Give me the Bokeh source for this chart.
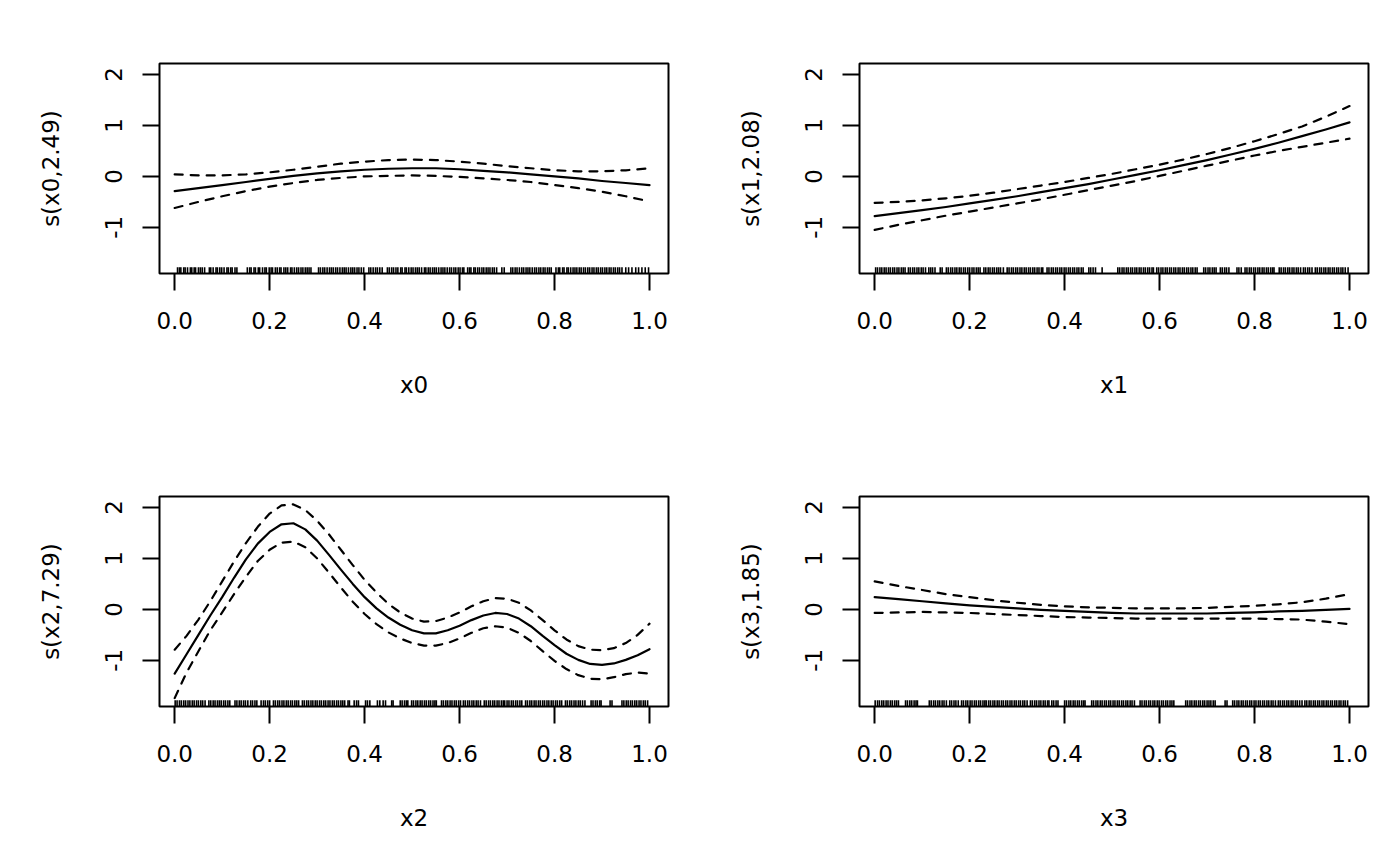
from bokeh.plotting import figure
from bokeh.layouts import gridplot
from bokeh.models import Range1d, FixedTicker, PrintfTickFormatter
from bokeh.embed import file_html
from bokeh.resources import INLINE

# ---------------- data ----------------
grid21 = [0.0, 0.05, 0.1, 0.15, 0.2, 0.25, 0.3, 0.35, 0.4, 0.45, 0.5,
          0.55, 0.6, 0.65, 0.7, 0.75, 0.8, 0.85, 0.9, 0.95, 1.0]
grid41 = [0.0, 0.025, 0.05, 0.075, 0.1, 0.125, 0.15, 0.175, 0.2, 0.225,
          0.25, 0.275, 0.3, 0.325, 0.35, 0.375, 0.4, 0.425, 0.45, 0.475,
          0.5, 0.525, 0.55, 0.575, 0.6, 0.625, 0.65, 0.675, 0.7, 0.725,
          0.75, 0.775, 0.8, 0.825, 0.85, 0.875, 0.9, 0.925, 0.95, 0.975, 1.0]

fit_x0 = [-0.29, -0.23, -0.17, -0.11, -0.05, 0.01, 0.06, 0.10, 0.13, 0.15, 0.16,
          0.16, 0.14, 0.11, 0.08, 0.04, 0.00, -0.04, -0.09, -0.13, -0.17]
up_x0 = [0.04, 0.02, 0.02, 0.04, 0.08, 0.13, 0.19, 0.25, 0.29, 0.32, 0.33,
         0.32, 0.29, 0.25, 0.20, 0.16, 0.12, 0.10, 0.10, 0.12, 0.16]
lo_x0 = [-0.62, -0.50, -0.39, -0.29, -0.20, -0.13, -0.07, -0.03, 0.00, 0.01, 0.02,
         0.01, -0.01, -0.04, -0.07, -0.11, -0.17, -0.23, -0.30, -0.39, -0.49]

fit_x1 = [-0.78, -0.72, -0.66, -0.60, -0.53, -0.46, -0.39, -0.31, -0.23, -0.15, -0.06,
          0.03, 0.12, 0.22, 0.32, 0.43, 0.54, 0.66, 0.79, 0.92, 1.06]
up_x1 = [-0.52, -0.50, -0.47, -0.43, -0.38, -0.32, -0.25, -0.18, -0.11, -0.03, 0.05,
         0.14, 0.23, 0.33, 0.44, 0.56, 0.69, 0.83, 0.98, 1.17, 1.38]
lo_x1 = [-1.05, -0.95, -0.86, -0.77, -0.69, -0.61, -0.53, -0.45, -0.36, -0.27, -0.18,
         -0.09, 0.01, 0.11, 0.21, 0.31, 0.41, 0.50, 0.58, 0.66, 0.74]

fit_x2 = [-1.26, -0.88, -0.50, -0.12, 0.24, 0.62, 0.98, 1.29, 1.52, 1.67,
          1.69, 1.57, 1.35, 1.07, 0.78, 0.50, 0.24, 0.02, -0.16, -0.30,
          -0.41, -0.47, -0.47, -0.41, -0.32, -0.21, -0.12, -0.07, -0.09, -0.18,
          -0.33, -0.52, -0.70, -0.87, -0.99, -1.07, -1.09, -1.06, -0.99, -0.90, -0.78]
up_x2 = [-0.79, -0.52, -0.20, 0.16, 0.55, 0.94, 1.30, 1.62, 1.88, 2.04,
         2.06, 1.95, 1.74, 1.47, 1.17, 0.87, 0.58, 0.33, 0.11, -0.06,
         -0.18, -0.24, -0.23, -0.16, -0.06, 0.06, 0.16, 0.22, 0.21, 0.13,
         -0.02, -0.21, -0.41, -0.59, -0.72, -0.79, -0.80, -0.76, -0.66, -0.50, -0.28]
lo_x2 = [-1.74, -1.24, -0.82, -0.41, -0.06, 0.30, 0.64, 0.95, 1.17, 1.31,
         1.33, 1.22, 1.00, 0.72, 0.43, 0.15, -0.09, -0.29, -0.45, -0.57,
         -0.66, -0.71, -0.71, -0.66, -0.57, -0.46, -0.37, -0.33, -0.36, -0.46,
         -0.62, -0.82, -1.01, -1.17, -1.29, -1.36, -1.37, -1.33, -1.27, -1.24, -1.26]

fit_x3 = [0.24, 0.20, 0.16, 0.12, 0.08, 0.05, 0.02, -0.01, -0.03, -0.05, -0.07,
          -0.08, -0.08, -0.08, -0.08, -0.07, -0.06, -0.04, -0.03, -0.01, 0.01]
up_x3 = [0.55, 0.46, 0.38, 0.30, 0.24, 0.18, 0.13, 0.09, 0.06, 0.04, 0.03,
         0.02, 0.02, 0.02, 0.03, 0.05, 0.07, 0.10, 0.14, 0.21, 0.30]
lo_x3 = [-0.07, -0.06, -0.05, -0.06, -0.07, -0.09, -0.11, -0.13, -0.15, -0.16, -0.17,
         -0.18, -0.18, -0.18, -0.18, -0.18, -0.18, -0.19, -0.20, -0.24, -0.29]

# rug positions (thousandths of the covariate range)
rug_x0 = [6, 10, 13, 19, 22, 27, 33, 36, 41, 44, 50, 54, 58, 63, 73, 76, 81, 87, 90, 95, 99,
          104, 110, 113, 118, 121, 127, 131, 153, 158, 161, 167, 170, 176, 179, 185, 190, 193,
          199, 203, 206, 212, 216, 221, 224, 230, 234, 238, 244, 247, 252, 257, 261, 266, 270,
          275, 279, 283, 287, 303, 307, 312, 316, 321, 326, 330, 334, 339, 343, 348, 353, 357,
          361, 366, 371, 375, 379, 384, 388, 393, 398, 409, 413, 418, 423, 427, 432, 437, 448,
          452, 457, 461, 466, 470, 476, 479, 485, 488, 493, 498, 502, 507, 511, 515, 520, 526,
          529, 534, 538, 543, 547, 551, 556, 561, 565, 569, 574, 579, 583, 588, 592, 597, 601,
          606, 609, 617, 621, 624, 630, 633, 638, 642, 647, 651, 656, 660, 664, 669, 673, 678,
          689, 694, 708, 712, 717, 721, 726, 731, 735, 740, 744, 748, 753, 758, 762, 767, 771,
          776, 780, 785, 789, 793, 803, 808, 811, 817, 820, 826, 829, 834, 839, 843, 847, 852,
          856, 861, 865, 870, 874, 879, 883, 888, 892, 897, 901, 906, 910, 915, 919, 924, 928,
          933, 937, 942, 950, 956, 963, 971, 977, 984, 991, 998]
rug_x1 = [2, 6, 11, 15, 20, 24, 29, 33, 38, 42, 47, 51, 56, 60, 64, 71, 75, 80, 84, 89, 93, 98,
          102, 107, 114, 118, 122, 127, 138, 142, 151, 155, 160, 164, 169, 173, 178, 182, 187,
          191, 196, 200, 205, 209, 214, 218, 222, 230, 234, 239, 243, 248, 252, 257, 261, 265,
          271, 279, 283, 288, 292, 297, 301, 306, 310, 315, 319, 324, 328, 333, 337, 342, 346,
          351, 354, 363, 367, 372, 376, 381, 385, 390, 394, 399, 403, 408, 412, 417, 421, 426,
          430, 435, 439, 451, 455, 460, 465, 479, 512, 516, 521, 525, 530, 534, 539, 543, 548,
          552, 557, 561, 566, 570, 575, 579, 584, 587, 594, 598, 603, 607, 612, 616, 621, 625,
          630, 634, 639, 643, 648, 652, 657, 661, 666, 670, 675, 679, 693, 697, 702, 706, 711,
          715, 719, 728, 732, 737, 741, 746, 763, 767, 772, 780, 784, 789, 793, 798, 802, 807,
          811, 816, 820, 825, 829, 834, 838, 841, 852, 856, 861, 865, 870, 874, 879, 883, 888,
          892, 897, 903, 907, 912, 916, 921, 928, 932, 937, 941, 946, 950, 955, 959, 964, 968,
          973, 977, 982, 986, 991, 997]
rug_x2 = [1, 5, 10, 14, 19, 23, 28, 32, 37, 41, 46, 50, 55, 59, 64, 72, 76, 81, 85, 90, 94, 98,
          103, 107, 112, 116, 127, 131, 136, 140, 145, 149, 154, 160, 164, 169, 173, 182, 187,
          191, 196, 200, 208, 212, 217, 221, 226, 230, 235, 239, 244, 248, 253, 257, 261, 269,
          273, 278, 282, 287, 291, 296, 300, 305, 309, 314, 318, 323, 327, 332, 336, 341, 345,
          350, 354, 358, 365, 368, 378, 383, 387, 402, 406, 411, 427, 432, 439, 444, 457, 460,
          475, 479, 484, 488, 491, 499, 503, 508, 512, 517, 521, 526, 530, 535, 539, 544, 548,
          551, 562, 566, 571, 575, 580, 584, 589, 593, 598, 602, 608, 612, 617, 621, 626, 630,
          635, 639, 644, 652, 656, 661, 665, 670, 674, 679, 683, 688, 692, 695, 700, 704, 709,
          713, 718, 722, 727, 731, 739, 743, 748, 752, 757, 761, 766, 770, 775, 779, 784, 788,
          793, 797, 802, 806, 811, 815, 823, 827, 832, 836, 841, 845, 850, 854, 859, 864, 877,
          881, 886, 890, 895, 898, 917, 921, 942, 946, 951, 955, 960, 964, 969, 973, 978, 982,
          987, 991, 996]
rug_x3 = [1, 6, 10, 15, 19, 24, 28, 33, 37, 42, 46, 50, 65, 69, 74, 78, 83, 87, 90, 115, 119,
          124, 128, 133, 137, 142, 146, 151, 158, 162, 167, 171, 176, 183, 187, 192, 196, 201,
          205, 210, 214, 219, 223, 228, 232, 235, 240, 244, 249, 253, 258, 262, 267, 271, 276,
          280, 285, 289, 294, 298, 303, 307, 312, 316, 321, 328, 332, 337, 341, 346, 350, 355,
          359, 364, 367, 373, 377, 382, 386, 400, 404, 409, 413, 418, 422, 427, 431, 436, 440,
          443, 457, 461, 466, 470, 475, 479, 484, 488, 493, 497, 502, 506, 511, 515, 520, 524,
          529, 533, 538, 542, 547, 559, 563, 568, 572, 577, 581, 586, 590, 595, 599, 604, 608,
          613, 617, 622, 626, 630, 655, 659, 664, 668, 673, 677, 682, 686, 691, 695, 700, 704,
          708, 713, 717, 738, 742, 754, 758, 763, 767, 772, 776, 781, 785, 790, 794, 799, 803,
          808, 812, 817, 821, 826, 830, 835, 839, 844, 850, 854, 859, 863, 868, 872, 877, 881,
          886, 890, 895, 900, 906, 910, 915, 919, 924, 928, 933, 937, 942, 946, 951, 955, 960,
          964, 969, 973, 978, 982, 987, 991, 996]

x_labels = ["x0", "x1", "x2", "x3"]
y_labels = ["s(x0,2.49)", "s(x1,2.08)", "s(x2,7.29)", "s(x3,1.85)"]
x_ticks = [0.0, 0.2, 0.4, 0.6, 0.8, 1.0]
y_ticks = [-1, 0, 1, 2]

# ---------------- styling ----------------
X_LO, X_HI = -0.032, 1.040
Y_LO, Y_HI = -1.905, 2.215
FONT = "DejaVu Sans"
FSIZE = "23px"
RUG_FRAC = 0.03


def panel(xs, fit, up, lo, rug, xlab, ylab, w, h, mb_right, mb_bottom):
    p = figure(width=w, height=h, output_backend="svg", toolbar_location=None,
               x_range=Range1d(X_LO, X_HI), y_range=Range1d(Y_LO, Y_HI),
               min_border_left=159, min_border_right=mb_right,
               min_border_top=63, min_border_bottom=mb_bottom)
    p.grid.visible = False
    p.outline_line_color = "black"
    p.outline_line_width = 2
    p.outline_line_alpha = 1.0
    p.background_fill_color = "white"
    p.border_fill_color = "white"

    p.line(xs, fit, line_color="black", line_width=2.2, line_join="round", line_cap="round")
    for band in (up, lo):
        p.line(xs, band, line_color="black", line_width=2.2, line_dash="8 8",
               line_cap="round", line_join="round")
    rx = [v / 1000.0 for v in rug]
    n = len(rx)
    p.segment(x0=rx, y0=[Y_LO] * n, x1=rx, y1=[Y_LO + RUG_FRAC * (Y_HI - Y_LO)] * n,
              line_color="black", line_width=1.6)

    xa = p.xaxis[0]
    xa.ticker = FixedTicker(ticks=x_ticks)
    xa.formatter = PrintfTickFormatter(format="%.1f")
    xa.axis_label = xlab
    ya = p.yaxis[0]
    ya.ticker = FixedTicker(ticks=y_ticks)
    ya.formatter = PrintfTickFormatter(format="%d")
    ya.axis_label = ylab
    ya.major_label_orientation = "vertical"
    for ax in (xa, ya):
        ax.axis_line_color = None
        ax.major_tick_in = 0
        ax.major_tick_out = 17
        ax.major_tick_line_width = 2
        ax.major_tick_line_color = "black"
        ax.minor_tick_line_color = None
        ax.major_label_text_font = FONT
        ax.major_label_text_font_size = FSIZE
        ax.major_label_text_color = "black"
        ax.axis_label_text_font = FONT
        ax.axis_label_text_font_size = FSIZE
        ax.axis_label_text_font_style = "normal"
        ax.axis_label_text_color = "black"
    xa.major_label_standoff = 21
    xa.axis_label_standoff = 40
    ya.major_label_standoff = 20
    ya.axis_label_standoff = 39
    return p


p1 = panel(grid21, fit_x0, up_x0, lo_x0, rug_x0, x_labels[0], y_labels[0], 700, 433, 32, 160)
p2 = panel(grid21, fit_x1, up_x1, lo_x1, rug_x1, x_labels[1], y_labels[1], 692, 433, 24, 160)
p3 = panel(grid41, fit_x2, up_x2, lo_x2, rug_x2, x_labels[2], y_labels[2], 700, 425, 32, 152)
p4 = panel(grid21, fit_x3, up_x3, lo_x3, rug_x3, x_labels[3], y_labels[3], 692, 425, 24, 152)

grid = gridplot([[p1, p2], [p3, p4]], toolbar_location=None)

open("out.html", "w").write(file_html(grid, INLINE))
